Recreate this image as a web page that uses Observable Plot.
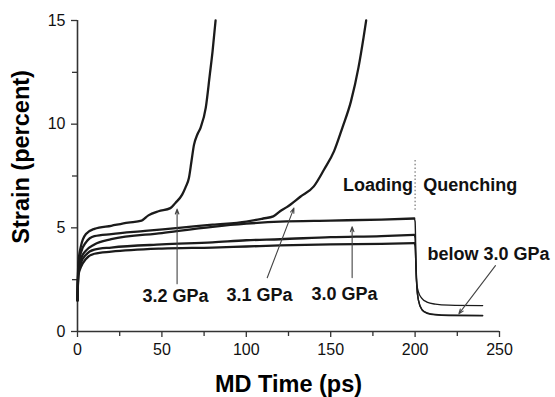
<!DOCTYPE html>
<html><head><meta charset="utf-8">
<script src="https://cdn.jsdelivr.net/npm/d3@7"></script>
<script src="https://cdn.jsdelivr.net/npm/@observablehq/plot@0.6"></script>
<style>body{margin:0;background:#fff}</style>
</head><body><div id="chart"></div>
<script>
// ---- data ----
const t32 = [0, 0.5, 2, 5, 10, 20, 30, 38, 42, 48, 55, 58, 62, 64, 66, 67.5, 69, 71, 73, 76, 78.4, 80, 81.8];
const s32 = [1.5, 3.3, 4.1, 4.7, 4.95, 5.1, 5.25, 5.35, 5.6, 5.8, 5.95, 6.2, 6.6, 6.95, 7.4, 8.2, 9.0, 9.5, 9.85, 10.8, 12.4, 13.5, 15.0];

const t31 = [0, 0.5, 2, 5, 10, 20, 40, 60, 80, 100, 110, 116, 120, 124, 132, 140, 146, 152, 157, 162, 166.5, 169.5, 171];
const s31 = [1.5, 3.1, 3.8, 4.3, 4.6, 4.7, 4.85, 5.0, 5.15, 5.3, 5.45, 5.55, 5.8, 6.0, 6.5, 7.0, 7.8, 8.7, 9.85, 11.1, 12.75, 14.2, 15.0];

const tLoad = [0, 0.5, 2, 5, 10, 20, 50, 80, 100, 120, 150, 180, 199.5];
const s30   = [1.5, 2.9, 3.5, 3.9, 4.2, 4.45, 4.75, 5.05, 5.2, 5.3, 5.35, 5.4, 5.45];
const sMid  = [1.5, 2.8, 3.3, 3.7, 3.95, 4.05, 4.2, 4.3, 4.4, 4.45, 4.55, 4.6, 4.66];
const sLow  = [1.5, 2.7, 3.1, 3.5, 3.75, 3.85, 4.0, 4.05, 4.1, 4.15, 4.2, 4.23, 4.26];

const tQuench  = [199.5, 200, 200.5, 201, 202, 204, 207, 212, 220, 240];
const q30      = [5.45, 5.3, 3.5, 2.2, 1.5, 1.05, 0.88, 0.8, 0.77, 0.76];
const qMid     = [4.66, 4.5, 3.0, 2.3, 1.9, 1.6, 1.42, 1.32, 1.27, 1.25];
const qLow     = [4.26, 4.1, 3.2, 2.2, 1.5, 1.07, 0.9, 0.82, 0.79, 0.78];

const majorX = [0, 50, 100, 150, 200, 250];
const minorX = [25, 75, 125, 175, 225];
const majorY = [0, 5, 10, 15];
const minorY = [2.5, 7.5, 12.5];

const labelText = ["3.2 GPa", "3.1 GPa", "3.0 GPa", "below 3.0 GPa", "Loading", "Quenching"];
const labelX = [58.1, 107.8, 158.2, 243.5, 198.7, 204.8];
const labelY = [1.41, 1.45, 1.53, 3.47, 6.77, 6.77];
const labelAnchor = ["middle", "middle", "middle", "middle", "end", "start"];

const arrowX1 = [59, 112.4, 162.7, 247.6];
const arrowY1 = [2.3, 2.59, 2.6, 3.18];
const arrowX2 = [59, 128.2, 162.7, 225.9];
const arrowY2 = [5.9, 5.95, 5.05, 0.85];

// ---- tables built from the arrays ----
const loadRows = [];
function add(rows, name, t, s) { t.forEach((x, i) => rows.push({series: name, t: x, s: s[i]})); }
add(loadRows, "3.2", t32, s32);
add(loadRows, "3.1", t31, s31);
add(loadRows, "3.0", tLoad, s30);
add(loadRows, "mid", tLoad, sMid);
add(loadRows, "low", tLoad, sLow);
const quenchRows = [];
add(quenchRows, "q30", tQuench, q30);
add(quenchRows, "qMid", tQuench, qMid);
add(quenchRows, "qLow", tQuench, qLow);

const labels = labelText.map((text, i) => ({text, x: labelX[i], y: labelY[i], anchor: labelAnchor[i]}));
const arrows = arrowX1.map((x1, i) => ({x1, y1: arrowY1[i], x2: arrowX2[i], y2: arrowY2[i]}));

const FONT = "'Liberation Sans', Arial, Helvetica, sans-serif";

const chart = Plot.plot({
  width: 555, height: 397,
  marginLeft: 77, marginRight: 56, marginTop: 20, marginBottom: 66,
  style: {fontFamily: FONT, background: "white", color: "#000", overflow: "visible"},
  x: {domain: [0, 250]},
  y: {domain: [0, 15]},
  marks: [
    Plot.axisX(majorX, {tickSize: 6, tickPadding: 6, fontSize: 16, label: null, stroke: "#333", strokeWidth: 1.3, fill: "#111"}),
    Plot.axisX(minorX, {tickSize: 5, tickFormat: () => "", label: null, stroke: "#333", strokeWidth: 1.3}),
    Plot.axisY(majorY, {tickSize: 6, tickPadding: 6, fontSize: 16, label: null, stroke: "#333", strokeWidth: 1.3, fill: "#111"}),
    Plot.axisY(minorY, {tickSize: 5, tickFormat: () => "", label: null, stroke: "#333", strokeWidth: 1.3}),
    Plot.ruleX([0], {stroke: "#333", strokeWidth: 1.6}),
    Plot.ruleY([0], {stroke: "#333", strokeWidth: 1.6}),
    Plot.ruleX([200], {y1: 5.85, y2: 8.25, stroke: "#777", strokeWidth: 1.2, strokeDasharray: "1.5,2.2"}),
    Plot.line(loadRows, {x: "t", y: "s", z: "series", stroke: "#1b1b1b", strokeWidth: 2.3, curve: "monotone-x"}),
    Plot.line(quenchRows, {x: "t", y: "s", z: "series", stroke: "#1b1b1b", strokeWidth: 1.4, curve: "monotone-x"}),
    Plot.arrow(arrows, {x1: "x1", y1: "y1", x2: "x2", y2: "y2", stroke: "#444", strokeWidth: 1.1, headLength: 7, headAngle: 40}),
    Plot.text(labels.filter(d => d.anchor === "middle"), {x: "x", y: "y", text: "text", textAnchor: "middle", lineAnchor: "bottom", fontSize: 18, fontWeight: "bold", fill: "#111"}),
    Plot.text(labels.filter(d => d.anchor === "end"), {x: "x", y: "y", text: "text", textAnchor: "end", lineAnchor: "bottom", fontSize: 18, fontWeight: "bold", fill: "#111"}),
    Plot.text(labels.filter(d => d.anchor === "start"), {x: "x", y: "y", text: "text", textAnchor: "start", lineAnchor: "bottom", fontSize: 18, fontWeight: "bold", fill: "#111"}),
    Plot.text([{x: 125, text: "MD Time (ps)"}], {x: "x", text: "text", frameAnchor: "bottom", dy: 60.7, lineAnchor: "bottom", textAnchor: "middle", fontSize: 23.5, fontWeight: "bold", fill: "#000"}),
    Plot.text([{y: 8.42, text: "Strain (percent)"}], {y: "y", text: "text", frameAnchor: "left", dx: -48.5, rotate: -90, lineAnchor: "bottom", textAnchor: "middle", fontSize: 23.5, fontWeight: "bold", fill: "#000"})
  ]
});
document.getElementById("chart").appendChild(chart);
</script>
</body></html>
